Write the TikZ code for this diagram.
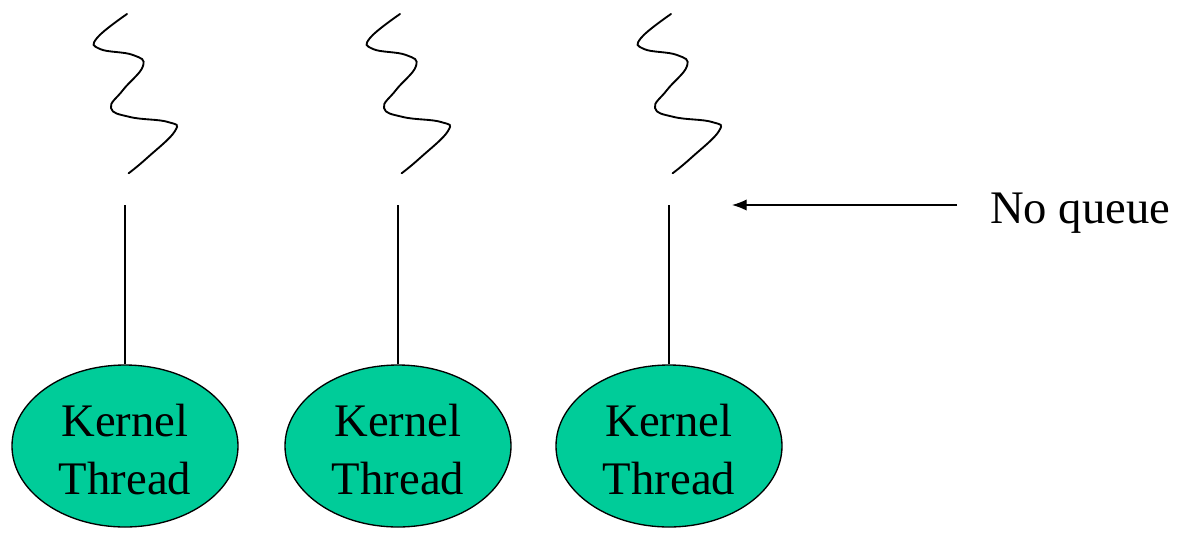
\documentclass[tikz,border=0pt]{standalone}
\usepackage{fontspec}
\setmainfont{Liberation Serif}
\usetikzlibrary{shapes.geometric,arrows.meta}
\definecolor{threadgreen}{RGB}{0,204,153}
\newcommand{\tallstrut}{\rule{0pt}{30pt}}
\begin{document}
\begin{tikzpicture}[x=0.75pt,y=-0.75pt,
  kthread/.style={ellipse,draw=black,line width=1pt,fill=threadgreen,
    minimum width=169.5pt,minimum height=121.5pt,inner sep=0pt,align=center,
    font=\fontsize{35}{43.5}\selectfont},
  link/.style={line width=1pt},
  wave/.style={line width=1.4pt,line cap=round},
  label/.style={font=\fontsize{35}{43.5}\selectfont,anchor=base west,inner sep=0pt},
  pointer/.style={line width=1pt,-{Latex[length=11pt,width=8.5pt]}}]
  \useasboundingbox (0,0) rectangle (1181,533);

  % wavy user-thread symbol, drawn relative to its top end
  \tikzset{squiggle/.pic={
    \draw[wave] plot[smooth,tension=0.75] coordinates {
      (0,0) (-30,24) (-27,35) (6,41) (16,52) (-4,76) (-16,94) (3,103)
      (41,108) (48,117) (20,144) (1.6,159.3)};
  }}

  \foreach \n/\x in {1/125,2/398,3/669}{
    \pic at (\x+2,14) {squiggle};
    \coordinate (top\n) at (\x,205);
    \node[kthread] (kt\n) at (\x,446) {\tallstrut Kernel\\Thread};
    \draw[link] (top\n) -- (kt\n.north);
  }

  \node[label] (nq) at (990,223) {No queue};
  \coordinate (tail) at (957,205);
  \coordinate (tip) at (732,205);
  \draw[pointer] (tail) -- (tip);
\end{tikzpicture}
\end{document}
